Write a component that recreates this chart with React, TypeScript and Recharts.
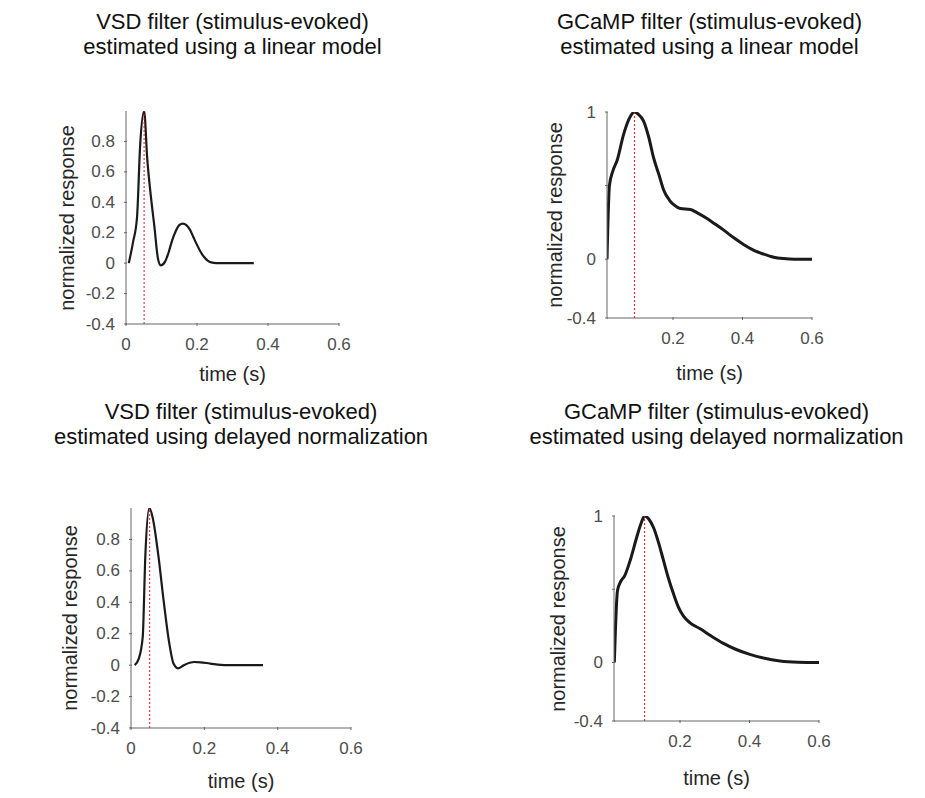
import React from 'react';
import { LineChart, Line, XAxis, YAxis, ReferenceLine } from 'recharts';

const FONT = '"Liberation Sans", Arial, Helvetica, sans-serif';

// VSD filter, linear model
const vsdLinTime = [0.008, 0.02, 0.031, 0.04, 0.051, 0.06, 0.07, 0.08, 0.09, 0.098, 0.11, 0.12, 0.13, 0.14, 0.15, 0.16, 0.17, 0.18, 0.19, 0.2, 0.21, 0.22, 0.23, 0.24, 0.255, 0.3, 0.36];
const vsdLinResp = [0, 0.14, 0.3, 0.78, 1.0, 0.68, 0.44, 0.24, 0.03, -0.015, 0.01, 0.07, 0.15, 0.21, 0.25, 0.26, 0.25, 0.22, 0.17, 0.12, 0.075, 0.04, 0.017, 0.005, 0, 0, 0];

// GCaMP filter, linear model
const gcampLinTime = [0.01, 0.017, 0.027, 0.039, 0.058, 0.075, 0.089, 0.1, 0.115, 0.13, 0.144, 0.16, 0.173, 0.19, 0.202, 0.221, 0.25, 0.27, 0.298, 0.32, 0.346, 0.375, 0.403, 0.43, 0.461, 0.49, 0.518, 0.55, 0.6];
const gcampLinResp = [0, 0.5, 0.6, 0.67, 0.85, 0.96, 1.0, 0.985, 0.94, 0.83, 0.69, 0.57, 0.47, 0.4, 0.37, 0.344, 0.337, 0.315, 0.276, 0.24, 0.197, 0.145, 0.1, 0.063, 0.034, 0.013, 0.004, 0, 0];

// VSD filter, delayed normalization
const vsdDnTime = [0.01, 0.021, 0.032, 0.039, 0.05, 0.059, 0.075, 0.089, 0.103, 0.116, 0.128, 0.144, 0.16, 0.173, 0.19, 0.216, 0.26, 0.3, 0.36];
const vsdDnResp = [0, 0.04, 0.18, 0.69, 1.0, 0.94, 0.69, 0.41, 0.16, 0.01, -0.02, 0, 0.015, 0.02, 0.018, 0.01, 0, 0, 0];

// GCaMP filter, delayed normalization
const gcampDnTime = [0.011, 0.02, 0.03, 0.04, 0.057, 0.076, 0.088, 0.098, 0.11, 0.124, 0.138, 0.152, 0.166, 0.181, 0.195, 0.21, 0.229, 0.258, 0.29, 0.325, 0.36, 0.401, 0.44, 0.488, 0.54, 0.6];
const gcampDnResp = [0, 0.49, 0.556, 0.588, 0.7, 0.86, 0.95, 1.0, 0.98, 0.92, 0.82, 0.7, 0.58, 0.47, 0.38, 0.316, 0.27, 0.23, 0.18, 0.13, 0.09, 0.055, 0.03, 0.01, 0.002, 0];

// peak times (red dotted markers)
const peakTimes = [0.051, 0.089, 0.051, 0.098];

const vsdTicksX = [0, 0.2, 0.4, 0.6];
const gcampTicksX = [0.2, 0.4, 0.6];
const vsdTicksY = [-0.4, -0.2, 0, 0.2, 0.4, 0.6, 0.8];
const vsdTickLabelsY = ['-0.4', '-0.2', '0', '0.2', '0.4', '0.6', '0.8'];
const gcampTicksY = [-0.4, 0, 0.5, 1];
const gcampTickLabelsY = ['-0.4', '0', '', '1'];

const PAD = 40;
const AXIS = '#666';

const XTick = (props: any) => {
  const { x, y, payload } = props;
  return (
    <g>
      <line x1={x} y1={y} x2={x} y2={y - 3} stroke={AXIS} />
      <text x={x} y={y + 18} textAnchor="middle" dominantBaseline="central" fontSize={17} fill="#4d4d4d" fontFamily={FONT}>
        {String(payload.value)}
      </text>
    </g>
  );
};

const makeYTick = (ticks: number[], labels: string[]) => (props: any) => {
  const { x, y, payload } = props;
  const i = ticks.indexOf(payload.value);
  return (
    <g>
      <line x1={x} y1={y} x2={x + 3} y2={y} stroke={AXIS} />
      <text x={x - 9} y={y} textAnchor="end" dominantBaseline="central" fontSize={17} fill="#4d4d4d" fontFamily={FONT}>
        {i >= 0 ? labels[i] : ''}
      </text>
    </g>
  );
};

interface PanelProps {
  left: number;
  top: number;
  w: number;
  h: number;
  time: number[];
  resp: number[];
  xDomain: [number, number];
  xTicks: number[];
  yTicks: number[];
  yLabels: string[];
  peak: number;
  lineWidth: number;
  title: string[];
  titleY: number;
  ylabelX: number;
  xlabelY: number;
}

const Panel: React.FC<PanelProps> = (p) => {
  const data = p.time.map((t, i) => ({ t, v: p.resp[i] }));
  const YTick = makeYTick(p.yTicks, p.yLabels);
  const cx = p.left + p.w / 2;
  return (
    <>
      <div
        style={{
          position: 'absolute', left: cx - 220, width: 440, top: p.titleY,
          textAlign: 'center', fontSize: 22, lineHeight: '25px', color: '#111', fontFamily: FONT,
        }}
      >
        {p.title.map((s, i) => <div key={i}>{s}</div>)}
      </div>
      <div style={{ position: 'absolute', left: p.left - PAD, top: p.top - PAD }}>
        <LineChart width={p.w + 2 * PAD} height={p.h + 2 * PAD} data={data} margin={{ top: PAD, right: PAD, left: 0, bottom: 0 }}>
          <XAxis
            dataKey="t" type="number" domain={p.xDomain} ticks={p.xTicks} interval={0} allowDataOverflow
            height={PAD} tickSize={0} tickLine={false} axisLine={{ stroke: AXIS }} tick={<XTick />}
          />
          <YAxis
            type="number" domain={[-0.4, 1]} ticks={p.yTicks} interval={0} allowDataOverflow
            width={PAD} tickSize={0} tickLine={false} axisLine={{ stroke: AXIS }} tick={<YTick />}
          />
          <Line type="monotone" dataKey="v" stroke="#1a1a1a" strokeWidth={p.lineWidth} dot={false} isAnimationActive={false} />
          <ReferenceLine x={p.peak} stroke="#e8141c" strokeDasharray="2 2" strokeWidth={1} />
        </LineChart>
      </div>
      <div
        style={{
          position: 'absolute', left: cx - 100, width: 200, top: p.xlabelY - 12,
          textAlign: 'center', fontSize: 20, lineHeight: '24px', color: '#262626', fontFamily: FONT,
        }}
      >
        time (s)
      </div>
      <div
        style={{
          position: 'absolute', left: p.ylabelX, top: p.top + p.h / 2,
          transform: 'translate(-50%, -50%) rotate(-90deg)', whiteSpace: 'nowrap',
          fontSize: 20, color: '#262626', fontFamily: FONT,
        }}
      >
        normalized response
      </div>
    </>
  );
};

export default function App() {
  return (
    <div style={{ position: 'absolute', left: 0, top: 0, width: 925, height: 798, background: '#fff', overflow: 'hidden' }}>
      <Panel
        left={126} top={111} w={213} h={213} time={vsdLinTime} resp={vsdLinResp}
        xDomain={[0, 0.6]} xTicks={vsdTicksX} yTicks={vsdTicksY} yLabels={vsdTickLabelsY}
        peak={peakTimes[0]} lineWidth={2.2}
        title={['VSD filter (stimulus-evoked)', 'estimated using a linear model']} titleY={9}
        ylabelX={67} xlabelY={374}
      />
      <Panel
        left={607} top={112} w={205} h={206} time={gcampLinTime} resp={gcampLinResp}
        xDomain={[0.01, 0.6]} xTicks={gcampTicksX} yTicks={gcampTicksY} yLabels={gcampTickLabelsY}
        peak={peakTimes[1]} lineWidth={3}
        title={['GCaMP filter (stimulus-evoked)', 'estimated using a linear model']} titleY={9}
        ylabelX={555} xlabelY={373}
      />
      <Panel
        left={131} top={508} w={220} h={220} time={vsdDnTime} resp={vsdDnResp}
        xDomain={[0, 0.6]} xTicks={vsdTicksX} yTicks={vsdTicksY} yLabels={vsdTickLabelsY}
        peak={peakTimes[2]} lineWidth={2.2}
        title={['VSD filter (stimulus-evoked)', 'estimated using delayed normalization']} titleY={399}
        ylabelX={70} xlabelY={781}
      />
      <Panel
        left={614} top={516} w={205} h={205} time={gcampDnTime} resp={gcampDnResp}
        xDomain={[0.01, 0.6]} xTicks={gcampTicksX} yTicks={gcampTicksY} yLabels={gcampTickLabelsY}
        peak={peakTimes[3]} lineWidth={3}
        title={['GCaMP filter (stimulus-evoked)', 'estimated using delayed normalization']} titleY={399}
        ylabelX={558} xlabelY={778}
      />
    </div>
  );
}
